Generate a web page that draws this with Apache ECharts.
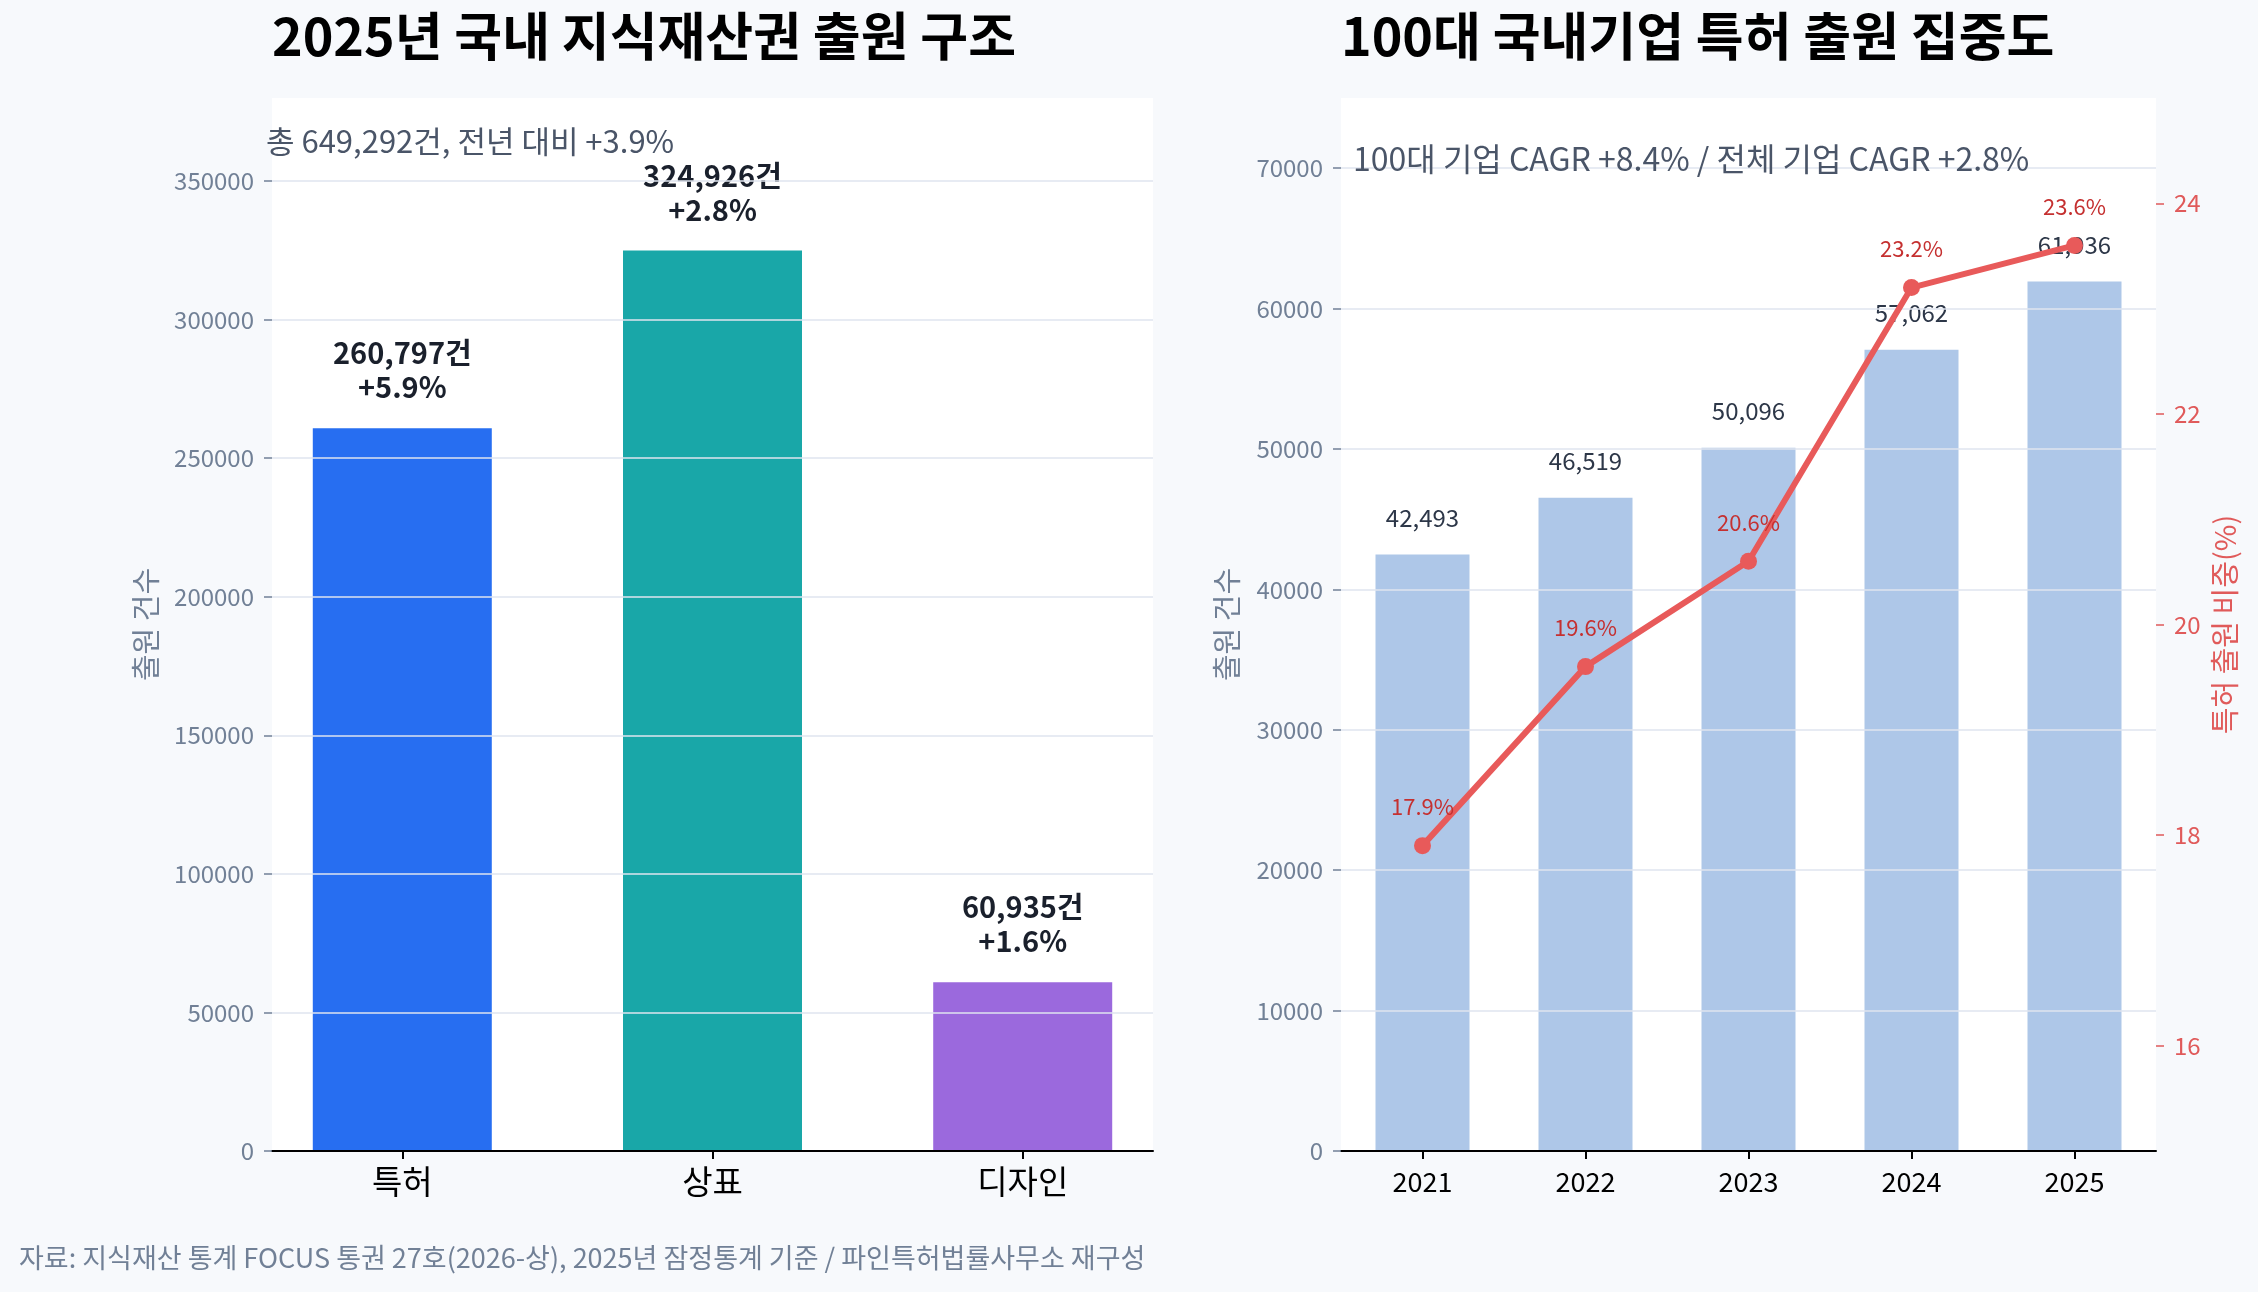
<!DOCTYPE html>
<html>
<head>
<meta charset="utf-8">
<title>지식재산권 출원 구조</title>
<script src="https://cdn.jsdelivr.net/npm/echarts@6/dist/echarts.min.js"></script>
<style>
  html, body { margin: 0; padding: 0; background: #f7f9fc; }
  #chart { width: 2258px; height: 1292px; }
</style>
</head>
<body>
<div id="chart"></div>
<script>
  // 2025 출원 구조
  const ipCategories = ['특허', '상표', '디자인']
  const ipCounts = [260797, 324926, 60935]
  const ipGrowth = ['+5.9%', '+2.8%', '+1.6%']
  const ipTicks = [0, 50000, 100000, 150000, 200000, 250000, 300000, 350000]

  // 100대 기업
  const years = ['2021', '2022', '2023', '2024', '2025']
  const top100Counts = [42493, 46519, 50096, 57062, 61936]
  const top100Share = [17.9, 19.6, 20.6, 23.2, 23.6]
  const countTicks = [0, 10000, 20000, 30000, 40000, 50000, 60000, 70000]
  const shareTicks = [16, 18, 20, 22, 24]

  const ipColors = ['#276ef1', '#19a7a8', '#9b69dd']
  const FONT = '"Noto Sans CJK KR", "Noto Sans", sans-serif'
  const GREY = '#718096'
  const RED = '#e05a5a'
  const GRID_LINE = '#dfe5ef'

  const comma = n => String(n).replace(/\B(?=(\d{3})+(?!\d))/g, ',')

  const chart = echarts.init(document.getElementById('chart'))

  // 공통 y축 (격자선은 막대 위에 그림)
  const yAxisBase = {
    type: 'value',
    z: 3,
    axisLine: {show: false, onZero: false},
    axisTick: {show: true, length: 8, lineStyle: {color: GREY, width: 1.5}},
    axisLabel: {color: GREY, fontSize: 24, fontFamily: FONT, margin: 18, formatter: v => String(v)},
    splitLine: {show: true, lineStyle: {color: GRID_LINE, width: 1.5}},
    nameLocation: 'middle',
    nameRotate: 90,
    nameTextStyle: {color: GREY, fontSize: 29, fontFamily: FONT}
  }

  const option = {
    backgroundColor: '#f7f9fc',
    textStyle: {fontFamily: FONT},
    animation: false,
    title: [{
      text: '2025년 국내 지식재산권 출원 구조',
      left: 272,
      top: 10,
      padding: 0,
      textStyle: {fontSize: 52, fontWeight: 'bold', color: '#000', fontFamily: FONT}
    }, {
      text: '100대 국내기업 특허 출원 집중도',
      left: 1341,
      top: 10,
      padding: 0,
      textStyle: {fontSize: 52, fontWeight: 'bold', color: '#000', fontFamily: FONT}
    }],
    grid: [
      {left: 272, top: 98, right: 1105, bottom: 141, show: true, backgroundColor: '#fff', borderWidth: 0},
      {left: 1341, top: 98, right: 102, bottom: 141, show: true, backgroundColor: '#fff', borderWidth: 0}
    ],
    xAxis: [{
      gridIndex: 0,
      type: 'value',
      min: -0.42,
      max: 2.42,
      z: 3,
      axisLine: {show: true, onZero: false, lineStyle: {color: '#000', width: 2}},
      axisTick: {show: true, length: 8, customValues: [0, 1, 2], lineStyle: {color: '#000', width: 2}},
      axisLabel: {
        customValues: [0, 1, 2],
        formatter: v => ipCategories[Math.round(v)],
        color: '#000', fontSize: 33, fontFamily: FONT, margin: 14
      },
      splitLine: {show: false}
    }, {
      gridIndex: 1,
      type: 'category',
      data: years,
      z: 3,
      axisLine: {show: true, lineStyle: {color: '#000', width: 2}},
      axisTick: {show: true, alignWithLabel: true, length: 8, lineStyle: {color: '#000', width: 2}},
      axisLabel: {color: '#000', fontSize: 27, fontFamily: FONT, margin: 17}
    }],
    yAxis: [
      Object.assign({}, yAxisBase, {
        gridIndex: 0,
        min: 0,
        max: 380000,
        name: '출원 건수',
        nameGap: 112,
        axisTick: Object.assign({}, yAxisBase.axisTick, {customValues: ipTicks}),
        axisLabel: Object.assign({}, yAxisBase.axisLabel, {customValues: ipTicks})
      }),
      Object.assign({}, yAxisBase, {
        gridIndex: 1,
        min: 0,
        max: 75000,
        name: '출원 건수',
        nameGap: 100,
        axisTick: Object.assign({}, yAxisBase.axisTick, {customValues: countTicks}),
        axisLabel: Object.assign({}, yAxisBase.axisLabel, {customValues: countTicks})
      }),
      {
        gridIndex: 1,
        type: 'value',
        position: 'right',
        min: 15,
        max: 25,
        z: 3,
        name: '특허 출원 비중(%)',
        nameLocation: 'middle',
        nameRotate: 90,
        nameGap: 54,
        nameTextStyle: {color: RED, fontSize: 29, fontFamily: FONT},
        axisLine: {show: false, onZero: false},
        axisTick: {show: true, length: 8, customValues: shareTicks, lineStyle: {color: RED, width: 1.5}},
        axisLabel: {customValues: shareTicks, color: RED, fontSize: 24, fontFamily: FONT, margin: 18},
        splitLine: {show: false}
      }
    ],
    graphic: [{
      type: 'text',
      left: 266,
      top: 126,
      z: 10,
      style: {text: '총 649,292건, 전년 대비 +3.9%', fill: '#4a5568', font: '31px ' + FONT}
    }, {
      type: 'text',
      left: 1353,
      top: 143,
      z: 10,
      style: {text: '100대 기업 CAGR +8.4% / 전체 기업 CAGR +2.8%', fill: '#4a5568', font: '32px ' + FONT}
    }, {
      type: 'text',
      left: 19,
      top: 1244,
      style: {
        text: '자료: 지식재산 통계 FOCUS 통권 27호(2026-상), 2025년 잠정통계 기준 / 파인특허법률사무소 재구성',
        fill: GREY,
        font: '27px ' + FONT
      }
    }],
    series: [{
      type: 'bar',
      xAxisIndex: 0,
      yAxisIndex: 0,
      z: 2,
      barWidth: 179,
      data: ipCounts.map((v, i) => ({value: [i, v], itemStyle: {color: ipColors[i]}})),
      label: {
        show: true,
        position: 'top',
        distance: 24,
        color: '#1a202c',
        fontSize: 29,
        fontWeight: 'bold',
        lineHeight: 34,
        fontFamily: FONT,
        formatter: p => comma(p.value[1]) + '건\n' + ipGrowth[p.dataIndex]
      }
    }, {
      type: 'bar',
      xAxisIndex: 1,
      yAxisIndex: 1,
      z: 2,
      barWidth: 94,
      data: top100Counts,
      itemStyle: {color: '#aec7e8'},
      label: {
        show: true,
        position: 'top',
        distance: 25,
        color: '#2d3748',
        fontSize: 24,
        fontFamily: FONT,
        formatter: p => comma(p.value)
      }
    }, {
      type: 'line',
      xAxisIndex: 1,
      yAxisIndex: 2,
      z: 5,
      data: top100Share,
      symbol: 'circle',
      symbolSize: 17,
      itemStyle: {color: '#e85a5a'},
      lineStyle: {color: '#e85a5a', width: 6},
      label: {
        show: true,
        position: 'top',
        distance: 19,
        color: '#c53030',
        fontSize: 22,
        fontFamily: FONT,
        formatter: p => p.value + '%'
      }
    }]
  }

  chart.setOption(option)
</script>
</body>
</html>
